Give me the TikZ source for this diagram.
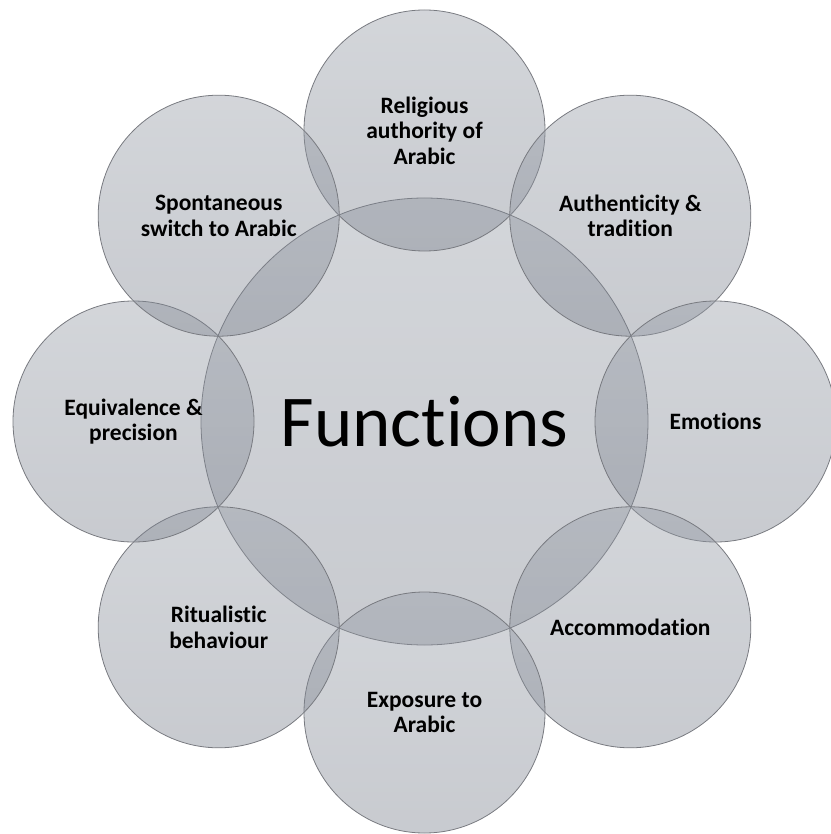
\documentclass[tikz,border=0pt]{standalone}
\usepackage{fontspec}
\setmainfont{Carlito}[Ligatures=NoCommon]
\definecolor{ctop}{RGB}{150,156,166}
\definecolor{cbot}{RGB}{124,130,142}
\definecolor{edge}{RGB}{120,122,128}
\begin{document}
\begin{tikzpicture}[x=1pt,y=-1pt]
\useasboundingbox (0,0) rectangle (830,834);
\tikzset{
  disc/.style={circle, inner sep=0pt, draw=edge, line width=0.8pt,
    top color=ctop, bottom color=cbot, fill opacity=0.42, draw opacity=1, text opacity=1,
    align=center},
  bubble/.style={disc, minimum size=241pt, font=\bfseries\fontsize{23.5}{25.5}\selectfont},
  hub/.style={disc, minimum size=447pt, font=\fontsize{73}{88}\selectfont}
}
\node[hub] (f) at (424.5,421.5) {Functions};
\node[bubble] (rel) at (424.5,130.5) {Religious\\authority of\\Arabic};
\node[bubble] (aut) at (630.3,215.7) {Authenticity \&\\tradition};
\node[bubble] (emo) at (715.5,421.5) {Emotions};
\node[bubble] (acc) at (630.3,627.3) {Accommodation};
\node[bubble] (exp) at (424.5,712.5) {Exposure to\\Arabic};
\node[bubble] (rit) at (218.7,627.3) {Ritualistic\\behaviour};
\node[bubble] (equ) at (133.5,421.5) {Equivalence \&\\precision};
\node[bubble] (spo) at (218.7,215.7) {Spontaneous\\switch to Arabic};
\end{tikzpicture}
\end{document}
